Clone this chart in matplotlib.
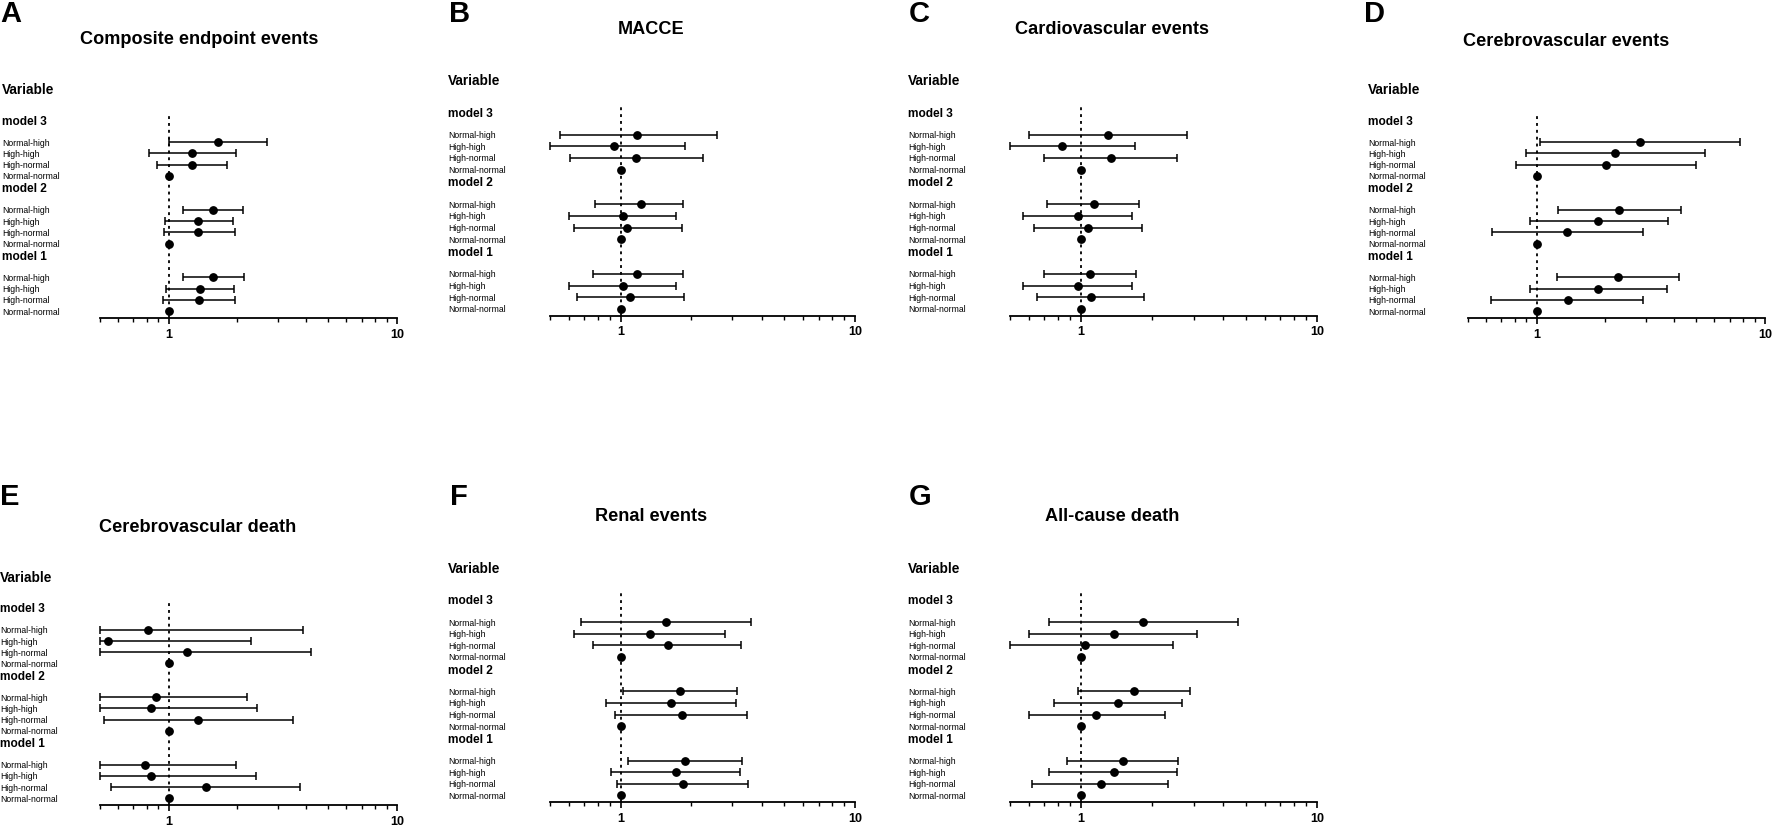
import numpy as np
import matplotlib
matplotlib.use("Agg")
import matplotlib.pyplot as plt
from matplotlib.transforms import blended_transform_factory
from matplotlib.ticker import FixedLocator, NullFormatter, FixedFormatter

plt.rcParams['font.family'] = ['Liberation Sans', 'DejaVu Sans']

W, H = 1772, 828

models = ['model 3', 'model 2', 'model 1']
rows = ['Normal-high', 'High-high', 'High-normal', 'Normal-normal']

letters = ['A', 'B', 'C', 'D', 'E', 'F', 'G']
titles = ['Composite endpoint events', 'MACCE', 'Cardiovascular events',
          'Cerebrovascular events', 'Cerebrovascular death', 'Renal events',
          'All-cause death']

# hazard ratios, each list = [model 3, model 2, model 1], each row = NH, HH, HN, NN
a_hr = [[1.64, 1.27, 1.26, 1], [1.56, 1.35, 1.34, 1], [1.57, 1.37, 1.36, 1]]
a_lo = [[1.00, 0.82, 0.89, 1], [1.16, 0.96, 0.95, 1], [1.16, 0.97, 0.94, 1]]
a_hi = [[2.69, 1.97, 1.80, 1], [2.12, 1.91, 1.95, 1], [2.13, 1.94, 1.96, 1]]

b_hr = [[1.18, 0.94, 1.16, 1], [1.22, 1.02, 1.07, 1], [1.18, 1.02, 1.10, 1]]
b_lo = [[0.55, 0.50, 0.61, 1], [0.78, 0.60, 0.63, 1], [0.76, 0.60, 0.65, 1]]
b_hi = [[2.57, 1.88, 2.24, 1], [1.85, 1.72, 1.82, 1], [1.85, 1.72, 1.87, 1]]

c_hr = [[1.30, 0.83, 1.34, 1], [1.13, 0.97, 1.07, 1], [1.09, 0.97, 1.10, 1]]
c_lo = [[0.60, 0.50, 0.70, 1], [0.72, 0.57, 0.63, 1], [0.70, 0.57, 0.65, 1]]
c_hi = [[2.82, 1.70, 2.55, 1], [1.76, 1.65, 1.81, 1], [1.71, 1.65, 1.85, 1]]

d_hr = [[2.82, 2.21, 2.01, 1], [2.29, 1.86, 1.36, 1], [2.27, 1.86, 1.37, 1]]
d_lo = [[1.03, 0.90, 0.81, 1], [1.24, 0.93, 0.64, 1], [1.23, 0.93, 0.63, 1]]
d_hi = [[7.81, 5.44, 5.00, 1], [4.28, 3.75, 2.92, 1], [4.22, 3.72, 2.93, 1]]

e_hr = [[0.81, 0.54, 1.20, 1], [0.88, 0.84, 1.35, 1], [0.79, 0.84, 1.46, 1]]
e_lo = [[0.50, 0.50, 0.50, 1], [0.50, 0.50, 0.52, 1], [0.50, 0.50, 0.56, 1]]
e_hi = [[3.86, 2.30, 4.21, 1], [2.20, 2.44, 3.51, 1], [1.97, 2.41, 3.77, 1]]

f_hr = [[1.56, 1.33, 1.59, 1], [1.80, 1.64, 1.83, 1], [1.89, 1.72, 1.85, 1]]
f_lo = [[0.68, 0.63, 0.76, 1], [1.02, 0.87, 0.95, 1], [1.08, 0.91, 0.97, 1]]
f_hi = [[3.59, 2.80, 3.27, 1], [3.15, 3.10, 3.45, 1], [3.30, 3.22, 3.50, 1]]

g_hr = [[1.83, 1.38, 1.04, 1], [1.68, 1.44, 1.16, 1], [1.50, 1.38, 1.21, 1]]
g_lo = [[0.73, 0.60, 0.50, 1], [0.97, 0.77, 0.60, 1], [0.87, 0.73, 0.62, 1]]
g_hi = [[4.61, 3.10, 2.45, 1], [2.90, 2.69, 2.26, 1], [2.57, 2.55, 2.34, 1]]

panel_data = [(a_hr, a_lo, a_hi), (b_hr, b_lo, b_hi), (c_hr, c_lo, c_hi),
              (d_hr, d_lo, d_hi), (e_hr, e_lo, e_hi), (f_hr, f_lo, f_hi),
              (g_hr, g_lo, g_hi)]

# layout in pixels: label x, axes left, axes right, axes top, axes bottom,
# title centre x, title y, letter x, letter y
layout = [
    (2, 100, 397, 115, 319, 199, 40, 0, 14),
    (448, 550, 855, 106.7, 316.7, 651, 29.3, 449, 14),
    (908, 1010, 1317, 106.7, 316.7, 1112, 29.3, 909, 14),
    (1368, 1468, 1765, 115, 319, 1566, 41.7, 1364, 14),
    (0, 100, 397, 602.7, 806, 198, 527.3, 0, 497.5),
    (448, 550, 855, 594.3, 803.3, 651, 516.7, 450, 497.5),
    (908, 1010, 1317, 594.3, 803.3, 1112, 516.7, 909, 497.5),
]

fig = plt.figure(figsize=(W / 100, H / 100), dpi=100)

def fx(px):
    return px / W

def fy(py):
    return 1 - py / H

for k in range(7):
    lx, x0, x1, y0, y1, tx, ty, ltx, lty = layout[k]
    hr, lo, hi = panel_data[k]
    ax = fig.add_axes([fx(x0), fy(y1), fx(x1) - fx(x0), (y1 - y0) / H])
    ax.set_xscale('log')
    ax.set_xlim(0.5, 10)
    ax.set_ylim(15.6, -2.5)

    ax.axvline(1, color='black', lw=1.3, ls=(0, (1.6, 2.2)), zorder=1)

    tr = blended_transform_factory(fig.transFigure, ax.transData)
    ax.text(fx(lx), -4.7, 'Variable', transform=tr, fontsize=9.8,
            fontweight='bold', va='center', ha='left', clip_on=False)
    for g, m in enumerate(models):
        ys = np.arange(4) + 6 * g
        ax.text(fx(lx), 6 * g - 1.9, m, transform=tr, fontsize=8.6,
                fontweight='bold', va='center', ha='left', clip_on=False)
        for i, r in enumerate(rows):
            ax.text(fx(lx), ys[i], r, transform=tr, fontsize=6.2,
                    va='center', ha='left', clip_on=False)
        h = np.array(hr[g])
        l = np.array(lo[g])
        u = np.array(hi[g])
        ax.errorbar(h[:3], ys[:3], xerr=[h[:3] - l[:3], u[:3] - h[:3]],
                    fmt='none', ecolor='black', elinewidth=1.1, capsize=2.6,
                    capthick=1.1, zorder=2, clip_on=False)
        ax.plot(h, ys, 'o', color='black', ms=5.3, zorder=3, clip_on=False)

    for s in ['top', 'left', 'right']:
        ax.spines[s].set_visible(False)
    ax.spines['bottom'].set_linewidth(1.3)
    ax.set_yticks([])
    ax.xaxis.set_major_locator(FixedLocator([1, 10]))
    ax.xaxis.set_major_formatter(FixedFormatter(['1', '10']))
    ax.xaxis.set_minor_locator(FixedLocator([0.5, 0.6, 0.7, 0.8, 0.9,
                                             2, 3, 4, 5, 6, 7, 8, 9]))
    ax.xaxis.set_minor_formatter(NullFormatter())
    ax.tick_params(axis='x', which='major', length=4, width=1.2, pad=3,
                   labelsize=9)
    ax.tick_params(axis='x', which='minor', length=3.2, width=1.0)
    for lab in ax.get_xticklabels():
        lab.set_fontweight('bold')
    ax.patch.set_alpha(0)

    fig.text(fx(tx), fy(ty), titles[k], fontsize=13.1, fontweight='bold',
             ha='center', va='center')
    fig.text(fx(ltx), fy(lty), letters[k], fontsize=21, fontweight='bold',
             ha='left', va='center')

fig.savefig('out.png', dpi=100)
